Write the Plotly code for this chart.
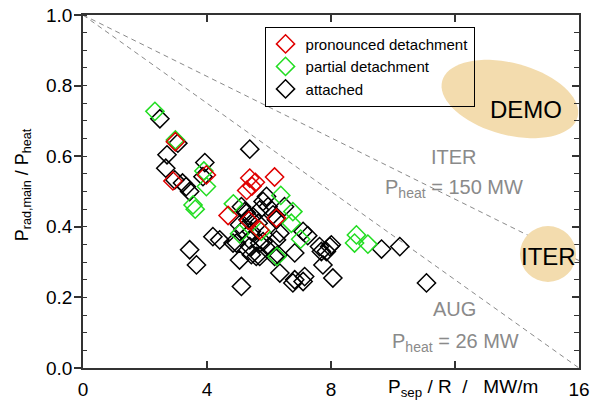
import numpy as np
import plotly.graph_objects as go

# ---------------- data ----------------
red_x = [2.98, 2.90, 3.98, 5.38, 5.56, 5.28, 5.45, 6.18, 4.68, 5.35, 5.70, 6.24]
red_y = [0.641, 0.530, 0.547, 0.538, 0.526, 0.503, 0.515, 0.541, 0.432, 0.418, 0.391, 0.425]

green_x = [2.32, 2.98, 3.90, 3.98, 3.55, 3.62, 4.85, 5.05, 5.75, 6.38, 6.77, 6.72, 7.02, 6.26, 8.82, 8.76, 9.19]
green_y = [0.727, 0.646, 0.558, 0.514, 0.462, 0.450, 0.465, 0.380, 0.387, 0.489, 0.443, 0.410, 0.365, 0.316, 0.377, 0.354, 0.351]

black_x = [2.48, 3.06, 2.71, 2.67, 2.96, 3.21, 3.33, 3.44, 3.93, 3.87,
           5.38, 5.92, 5.81, 5.97, 5.70, 5.22, 5.11, 5.48, 5.27, 6.13,
           6.50, 5.05, 5.65, 5.32, 5.16, 5.43, 6.35, 6.24, 7.10, 7.25,
           6.24, 6.02, 6.29, 5.70, 5.81, 5.38, 5.38, 5.43, 5.70, 5.59,
           6.18, 6.83, 7.69, 7.63, 7.96, 7.85, 8.01, 7.74, 6.35, 6.83,
           7.15, 7.10, 6.77, 8.06, 5.11, 5.05, 4.19, 4.41, 4.84, 4.95,
           3.44, 3.66, 9.63, 10.22, 11.08]
black_y = [0.706, 0.637, 0.604, 0.566, 0.533, 0.524, 0.514, 0.500, 0.582, 0.542,
           0.620, 0.486, 0.472, 0.457, 0.448, 0.443, 0.457, 0.429, 0.439, 0.434,
           0.457, 0.406, 0.410, 0.420, 0.391, 0.387, 0.382, 0.420, 0.387, 0.375,
           0.363, 0.344, 0.321, 0.354, 0.358, 0.363, 0.344, 0.321, 0.316, 0.316,
           0.316, 0.326, 0.330, 0.344, 0.344, 0.330, 0.349, 0.292, 0.269, 0.250,
           0.259, 0.245, 0.241, 0.255, 0.231, 0.306, 0.372, 0.363, 0.354, 0.354,
           0.335, 0.292, 0.337, 0.344, 0.241]

# model lines  P_rad/P_heat = 1 - (Psep/R) / (P_heat/R)
aug_line_x = [0, 16]
aug_line_y = [1.0, 0.0]
iter_line_x = [0, 16]
iter_line_y = [1.0, 1 - 16 / 23.0]

x_ticks = [0, 4, 8, 12, 16]
x_ticktext = ["0", "4", "8", "", "16"]
y_ticks = [0.0, 0.2, 0.4, 0.6, 0.8, 1.0]
y_ticktext = ["0.0", "0.2", "0.4", "0.6", "0.8", "1.0"]

FONT = "Liberation Sans, Arial, Helvetica, sans-serif"
GREY = "#8a8a8a"
TAN = "#F3DCAE"

fig = go.Figure()

# dashed model lines
for lx, ly in [(aug_line_x, aug_line_y), (iter_line_x, iter_line_y)]:
    fig.add_trace(go.Scatter(x=lx, y=ly, mode="lines", showlegend=False, hoverinfo="skip",
                             line=dict(color=GREY, width=1, dash="5px,4px")))

mk = dict(symbol="diamond-open", size=14, line=dict(width=1.5))
fig.add_trace(go.Scatter(x=black_x, y=black_y, mode="markers", name="attached",
                         marker=dict(mk, color="black", line=dict(width=1.5, color="black"))))
fig.add_trace(go.Scatter(x=green_x, y=green_y, mode="markers", name="partial detachment",
                         marker=dict(mk, color="#22dd22", line=dict(width=1.5, color="#22dd22"))))
fig.add_trace(go.Scatter(x=red_x, y=red_y, mode="markers", name="pronounced detachment",
                         marker=dict(mk, color="#e00000", line=dict(width=1.5, color="#e00000"))))

# dummy trace for right axis
fig.add_trace(go.Scatter(x=[None], y=[None], yaxis="y2", showlegend=False, hoverinfo="skip"))

# ---- DEMO ellipse (pixel scale -> data scale) ----
px_per_x = 495.4 / 16.0
px_per_y = 353.3 / 1.0
cx, cy = 13.77, 0.762
a_px, b_px, th = 70.0, 36.0, np.deg2rad(15)
t = np.linspace(0, 2 * np.pi, 73)
ex = cx + (a_px * np.cos(t) * np.cos(th) - b_px * np.sin(t) * np.sin(th)) / px_per_x
ey = cy - (a_px * np.cos(t) * np.sin(th) + b_px * np.sin(t) * np.cos(th)) / px_per_y
path = "M " + " L ".join(f"{xx:.4f},{yy:.4f}" for xx, yy in zip(ex, ey)) + " Z"
fig.add_shape(type="path", path=path, xref="x", yref="y", fillcolor=TAN,
              line=dict(width=0), layer="below")

# ITER circle
r_px = 28.0
ic_x, ic_y = 15.0, 0.323
fig.add_shape(type="circle", xref="x", yref="y",
              x0=ic_x - r_px / px_per_x, x1=ic_x + r_px / px_per_x,
              y0=ic_y - r_px / px_per_y, y1=ic_y + r_px / px_per_y,
              fillcolor=TAN, line=dict(width=0), layer="above")

anns = [
    dict(x=14.29, y=0.732, text="DEMO", font=dict(size=24, color="black")),
    dict(x=15.0, y=0.315, text="ITER", font=dict(size=24, color="black")),
    dict(x=11.96, y=0.598, text="ITER", font=dict(size=20, color=GREY)),
    dict(x=11.98, y=0.508, text="P<sub>heat</sub> = 150 MW", font=dict(size=20, color=GREY)),
    dict(x=11.99, y=0.166, text="AUG", font=dict(size=20, color=GREY)),
    dict(x=12.02, y=0.072, text="P<sub>heat</sub> = 26 MW", font=dict(size=20, color=GREY)),
]
for an in anns:
    fig.add_annotation(xref="x", yref="y", showarrow=False, xanchor="center", yanchor="middle",
                       font=dict(family=FONT, **an.pop("font")), **an)

# axis titles
fig.add_annotation(xref="x", yref="paper", x=12.25, y=-0.058, showarrow=False,
                   text="P<sub>sep</sub> / R \u00a0/ \u00a0 MW/m", xanchor="center", yanchor="middle",
                   font=dict(family=FONT, size=19, color="black"))
fig.add_annotation(xref="paper", yref="paper", x=-0.12, y=0.519, showarrow=False, textangle=-90,
                   text="P<sub>rad,main</sub> / P<sub>heat</sub>", xanchor="center", yanchor="middle",
                   font=dict(family=FONT, size=18, color="black"))

AX = "#333333"
fig.update_layout(
    width=590, height=402,
    margin=dict(l=83, r=11, t=15, b=34, autoexpand=False),
    paper_bgcolor="white", plot_bgcolor="white",
    font=dict(family=FONT, size=19, color="black"),
    showlegend=True,
    legend=dict(x=0.366, y=0.967, xanchor="left", yanchor="top", traceorder="reversed",
                bgcolor="rgba(0,0,0,0)", bordercolor="black", borderwidth=1,
                font=dict(family=FONT, size=15, color="black")),
    xaxis=dict(range=[0, 16], tickvals=x_ticks, ticktext=x_ticktext, showgrid=False, zeroline=False,
               showline=True, linecolor=AX, linewidth=1.5, mirror="ticks",
               ticks="inside", ticklen=7, tickwidth=1.5, tickcolor=AX, automargin=False,
               ticklabelstandoff=3, tickfont=dict(size=19)),
    yaxis=dict(range=[0, 1], tickvals=y_ticks, ticktext=y_ticktext, showgrid=False, zeroline=False,
               showline=True, linecolor=AX, linewidth=1.5,
               ticks="outside", ticklen=7, tickwidth=1.5, tickcolor=AX, automargin=False,
               ticklabelstandoff=-2, tickfont=dict(size=19),
               minor=dict(dtick=0.05, ticks="inside", ticklen=4, tickwidth=1, tickcolor=AX, tick0=0)),
    yaxis2=dict(range=[0, 1], overlaying="y", side="right", showgrid=False, zeroline=False,
                showline=True, linecolor=AX, linewidth=1.5, showticklabels=False,
                tickvals=y_ticks, ticks="inside", ticklen=7, tickwidth=1.5, tickcolor=AX,
                minor=dict(dtick=0.05, ticks="inside", ticklen=5, tickwidth=1, tickcolor=AX, tick0=0)),
)

fig.write_html("out.html")
